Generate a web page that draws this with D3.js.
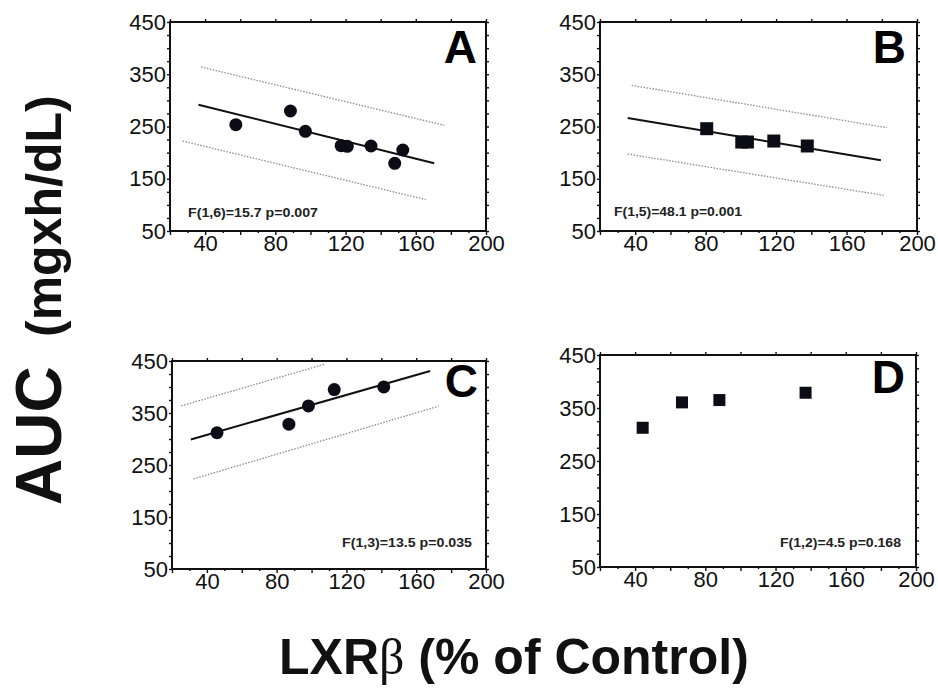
<!DOCTYPE html>
<html><head><meta charset="utf-8">
<script src="https://cdn.jsdelivr.net/npm/d3@7"></script>
<style>body{margin:0;background:#fff} svg{display:block} text{font-family:"Liberation Sans",Arial,Helvetica,sans-serif}</style>
</head><body>
<svg id="c" width="938" height="690"></svg>
<script>
// ---------- data ----------
const xDomain = [20, 200];
const yDomain = [50, 450];
const xTickLabels = [40, 80, 120, 160, 200];
const yTickLabels = [50, 150, 250, 350, 450];
const panelLetters = ["A", "B", "C", "D"];
const statsLabels = ["F(1,6)=15.7 p=0.007", "F(1,5)=48.1 p=0.001", "F(1,3)=13.5 p=0.035", "F(1,2)=4.5 p=0.168"];
const yTitleMain = "AUC";
const yTitleUnit = "(mgxh/dL)";
const xTitleMain = "LXR";
const xTitleGreek = "\u03B2";
const xTitleRest = " (% of Control)";

// Panel A (circles)
const aX = [57.5, 88.6, 97.1, 117.5, 121, 134.5, 148, 152.6];
const aY = [253.5, 279.7, 240.8, 213.3, 212, 212.7, 179.5, 205];
const aFitX = [36.2, 170.5], aFitY = [291.8, 179.5];
const aUpX = [37.7, 176.2], aUpY = [363.9, 252.2];
const aLoX = [27.2, 165.7], aLoY = [222.2, 110];
// Panel B (squares)
const bX = [80.6, 100.5, 103.7, 118.7, 137.7];
const bY = [245.8, 220.3, 220.3, 222.2, 212.7];
const bFitX = [35.7, 179.5], bFitY = [266.3, 185.2];
const bUpX = [38, 183], bUpY = [328.8, 247.8];
const bLoX = [35.7, 181], bLoY = [197.4, 118.3];
// Panel C (circles)
const cX = [45.8, 87, 98.2, 113, 141.4];
const cY = [312, 328.6, 363.7, 395, 400.2];
const cFitX = [30.8, 168], cFitY = [299.2, 430.8];
const cUpX = [25.3, 107.2], cUpY = [363.7, 443.6];
const cLoX = [32.3, 172.8], cLoY = [223.2, 363.1];
// Panel D (squares)
const dX = [44.3, 66.7, 88, 137.1];
const dY = [312.7, 360.6, 365, 378.8];

// ---------- layout ----------
const zip = (xs, ys) => xs.map((v, i) => [v, ys[i]]);
const panels = [
  {pts: zip(aX, aY), fit: zip(aFitX, aFitY), up: zip(aUpX, aUpY), lo: zip(aLoX, aLoY), marker: "circle",
   x0: 170, x1: 486, yb: 231, yt: 22, sx: 188, sy: 216.7, sa: "start", sl: 130, lx: 477, ly: 63, ms: 13},
  {pts: zip(bX, bY), fit: zip(bFitX, bFitY), up: zip(bUpX, bUpY), lo: zip(bLoX, bLoY), marker: "square",
   x0: 600, x1: 917, yb: 231, yt: 22, sx: 614, sy: 216, sa: "start", sl: 128, lx: 906, ly: 63, ms: 13},
  {pts: zip(cX, cY), fit: zip(cFitX, cFitY), up: zip(cUpX, cUpY), lo: zip(cLoX, cLoY), marker: "circle",
   x0: 172, x1: 486, yb: 569, yt: 361, sx: 472, sy: 547.3, sa: "end", sl: 130, lx: 478, ly: 397, ms: 13},
  {pts: zip(dX, dY), fit: null, up: null, lo: null, marker: "square",
   x0: 600, x1: 916, yb: 567, yt: 355, sx: 901, sy: 547, sa: "end", sl: 121, lx: 905, ly: 393, ms: 12}
];

const svg = d3.select("#c");

panels.forEach((p, i) => {
  const x = d3.scaleLinear().domain(xDomain).range([p.x0, p.x1]);
  const y = d3.scaleLinear().domain(yDomain).range([p.yb, p.yt]);
  const g = svg.append("g");

  const styleAxis = sel => {
    sel.select(".domain").remove();
    sel.selectAll(".tick line").attr("stroke", "#111").attr("stroke-width", 1.4);
    sel.selectAll(".tick text").attr("fill", "#111").attr("font-size", 22).attr("font-family", '"Liberation Sans",Arial,sans-serif');
  };

  // bottom major
  g.append("g").attr("transform", `translate(0,${p.yb})`)
    .call(d3.axisBottom(x).tickValues(d3.range(20, 201, 20)).tickSize(4).tickPadding(0)
      .tickFormat(d => xTickLabels.includes(d) ? d : ""))
    .call(styleAxis);
  // bottom minor
  g.append("g").attr("transform", `translate(0,${p.yb})`)
    .call(d3.axisBottom(x).tickValues(d3.range(30, 200, 20)).tickSize(2).tickFormat(""))
    .call(styleAxis);
  // top
  g.append("g").attr("transform", `translate(0,${p.yt})`)
    .call(d3.axisTop(x).tickValues(d3.range(20, 201, 20)).tickSize(3).tickFormat(""))
    .call(styleAxis);
  // left
  g.append("g").attr("transform", `translate(${p.x0},0)`)
    .call(d3.axisLeft(y).tickValues(d3.range(50, 451, 25)).tickSize(3).tickPadding(1)
      .tickFormat(d => yTickLabels.includes(d) ? d : ""))
    .call(styleAxis);
  // right
  g.append("g").attr("transform", `translate(${p.x1},0)`)
    .call(d3.axisRight(y).tickValues(d3.range(50, 451, 25)).tickSize(3).tickFormat(""))
    .call(styleAxis);

  // frame
  g.append("rect").attr("x", p.x0).attr("y", p.yt)
    .attr("width", p.x1 - p.x0).attr("height", p.yb - p.yt)
    .attr("fill", "none").attr("stroke", "#111").attr("stroke-width", 2);

  const line = d3.line().x(d => x(d[0])).y(d => y(d[1]));
  if (p.up) {
    [p.up, p.lo].forEach(b => g.append("path").attr("d", line(b)).attr("fill", "none")
      .attr("stroke", "#8c8c8c").attr("stroke-width", 1.3).attr("stroke-dasharray", "1.5 1.5"));
  }
  if (p.fit) {
    g.append("path").attr("d", line(p.fit)).attr("fill", "none")
      .attr("stroke", "#111").attr("stroke-width", 2);
  }

  if (p.marker === "circle") {
    g.selectAll("circle.pt").data(p.pts).join("circle").attr("class", "pt")
      .attr("cx", d => x(d[0])).attr("cy", d => y(d[1])).attr("r", p.ms / 2)
      .attr("fill", "#0c0c16");
  } else {
    g.selectAll("rect.pt").data(p.pts).join("rect").attr("class", "pt")
      .attr("x", d => x(d[0]) - p.ms / 2).attr("y", d => y(d[1]) - p.ms / 2)
      .attr("width", p.ms).attr("height", p.ms).attr("fill", "#0c0c16");
  }

  g.append("text").attr("x", p.sx).attr("y", p.sy).attr("text-anchor", p.sa)
    .attr("font-size", 12).attr("font-weight", "bold").attr("fill", "#222")
    .attr("textLength", p.sl).attr("lengthAdjust", "spacingAndGlyphs")
    .text(statsLabels[i]);

  g.append("text").attr("x", p.lx).attr("y", p.ly).attr("text-anchor", "end")
    .attr("font-size", 46).attr("font-weight", "bold").attr("fill", "#000")
    .text(panelLetters[i]);
});

// y title
svg.append("text").attr("transform", "translate(61,505) rotate(-90)")
  .attr("font-size", 64).attr("font-weight", "bold").attr("fill", "#111").text(yTitleMain);
svg.append("text").attr("transform", "translate(61,337) rotate(-90)")
  .attr("font-size", 50).attr("font-weight", "bold").attr("fill", "#111").text(yTitleUnit);

// x title
const xt = svg.append("text").attr("x", 279).attr("y", 674)
  .attr("font-size", 50).attr("font-weight", "bold").attr("fill", "#111");
xt.append("tspan").text(xTitleMain);
xt.append("tspan").attr("font-family", '"Liberation Serif","DejaVu Serif",serif').attr("font-weight", "normal").text(xTitleGreek);
xt.append("tspan").text(xTitleRest);
</script>
</body></html>
